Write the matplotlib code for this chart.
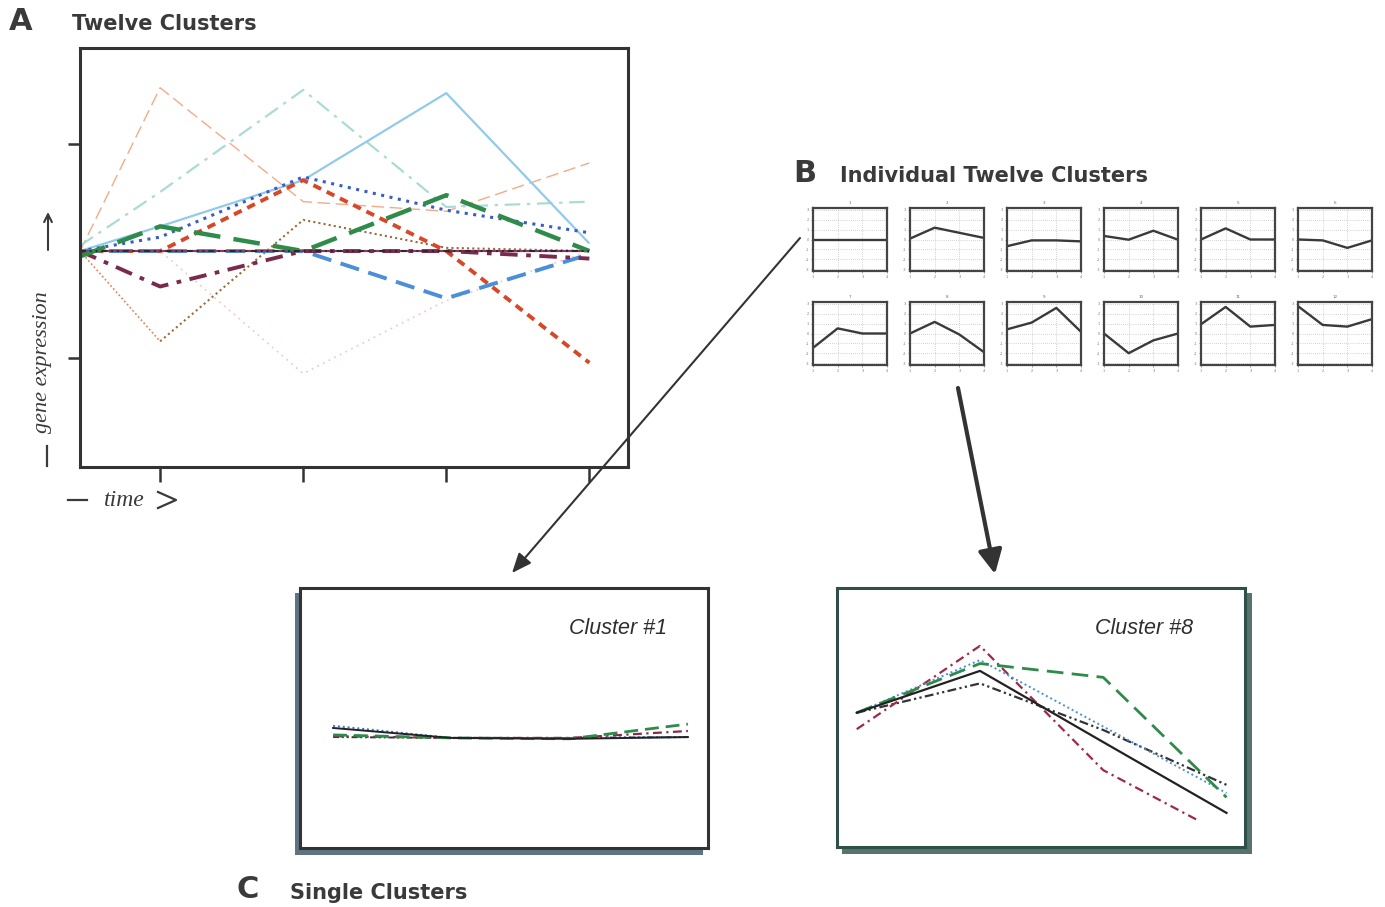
import matplotlib
matplotlib.use("Agg")
import matplotlib.pyplot as plt
import numpy as np
from matplotlib.patches import Rectangle

W, H = 1385, 907

# ---------------- data ----------------
# Panel A: twelve cluster profiles (time points, relative expression)
time_a = [0.44, 1, 2, 3, 4]
a_salmon = [0, 1.52, 0.46, 0.37, 0.82]
a_teal = [0.05, 0.55, 1.50, 0.41, 0.46]
a_skyblue = [0, 0.23, 0.66, 1.47, 0.07]
a_bluedot = [0, 0.13, 0.69, 0.38, 0.17]
a_red = [0, 0, 0.66, 0, -1.04]
a_green = [-0.05, 0.23, 0, 0.52, 0]
a_maroon = [0, -0.33, 0, 0, -0.07]
a_orange = [0, -0.84, np.nan, 0, 0]
a_brown = [np.nan, -0.84, 0.29, 0.03, 0]
a_pink = [0, 0, -1.14, -0.46, 0]
a_bluedash = [0, 0, 0, -0.44, -0.03]
a_purple = [0, 0, 0, 0, 0]
a_black = [0, 0, 0, 0, 0]
a_ticks_x = [1, 2, 3, 4]
a_ticks_y = [-1, 1]

# Panel B: individual cluster means
time_b = [1, 2, 3, 4]
b_titles = ["1", "2", "3", "4", "5", "6", "7", "8", "9", "10", "11", "12"]
b_c1 = [0, 0, 0, 0]
b_c2 = [0.09, 1.20, 0.68, 0.16]
b_c3 = [-0.68, -0.09, -0.09, -0.19]
b_c4 = [0.36, -0.02, 0.89, -0.02]
b_c5 = [0, 1.13, 0, 0]
b_c6 = [0, -0.09, -0.85, -0.09]
b_c7 = [-1.46, 0.52, 0, 0]
b_c8 = [0, 1.18, -0.10, -1.90]
b_c9 = [0.42, 1.11, 2.60, 0.17]
b_c10 = [0, -2.00, -0.70, 0]
b_c11 = [0.94, 2.70, 0.70, 0.87]
b_c12 = [2.78, 0.87, 0.70, 1.46]
b_yticks = [-3, -2, -1, 0, 1, 2, 3]

# Panel C: genes of single clusters
time_c = [1, 2, 3, 4]
c1_black = [-0.23, -0.46, -0.48, -0.44]
c1_green = [-0.39, -0.46, -0.48, -0.14]
c1_maroon = [-0.42, -0.46, -0.46, -0.30]
c1_blue = [-0.18, -0.46, -0.46, -0.44]
c1_dark = [-0.44, -0.46, -0.46, -0.44]

c8_black = [0.11, 1.08, -0.57, -2.21]
c8_green = [0.11, 1.25, 0.93, -1.85]
c8_blue = [0.11, 1.33, -0.21, -1.75]
c8_maroon_time = [1, 2, 3, 3.76]
c8_maroon = [-0.27, 1.66, -1.22, -2.37]
c8_dark = [0.11, 0.79, -0.29, -1.56]

TXT = "#3a3a3a"
SP = "#333333"


def rect(l, t, r, b):
    return [l / W, 1 - b / H, (r - l) / W, (b - t) / H]


fig = plt.figure(figsize=(W / 100, H / 100), dpi=100)
fig.patch.set_facecolor("white")

# background layer (shadows)
bg = fig.add_axes([0, 0, 1, 1], zorder=-1)
bg.set_xlim(0, W)
bg.set_ylim(H, 0)
bg.axis("off")
bg.add_patch(Rectangle((295, 593), 408, 262, facecolor="#5f7482", edgecolor="none"))
bg.add_patch(Rectangle((842, 593), 410, 261, facecolor="#58726e", edgecolor="none"))

# ---------------- Panel A ----------------
axA = fig.add_axes(rect(80, 48, 628, 467), zorder=1)
styles_a = [
    (a_salmon, "#f5aa88", 1.0, (0, (9, 4))),
    (a_teal, "#a9dcd6", 1.6, (0, (7, 3, 1.5, 3))),
    (a_pink, "#f1cccc", 1.3, (0, (1, 2.5))),
    (a_skyblue, "#92cbea", 1.6, "-"),
    (a_orange, "#f07a48", 1.2, (0, (1, 1.5))),
    (a_brown, "#9c6b3c", 1.5, (0, (1, 1.5))),
    (a_bluedot, "#3a5cc9", 2.2, (0, (1, 1.8))),
    (a_red, "#d8472a", 2.8, (0, (2.2, 1.6))),
    (a_bluedash, "#4a8fd8", 2.8, (0, (5, 2.5))),
    (a_purple, "#8b3a66", 1.6, "-"),
    (a_maroon, "#7a2a4c", 2.8, (0, (4.5, 2.2, 1.2, 2.2))),
    (a_green, "#2e8b4a", 3.2, (0, (6, 3))),
    (a_black, "#2a2a2a", 1.4, (0, (3, 2, 1, 2, 1, 2))),
]
for vals, col, lw, ls in styles_a:
    axA.plot(time_a, vals, color=col, lw=lw, linestyle=ls, solid_capstyle="butt")
axA.set_xlim(0.44, 4.27)
axA.set_ylim(-2.01, 1.89)
axA.set_xticks(a_ticks_x)
axA.set_yticks(a_ticks_y)
axA.set_xticklabels([])
axA.set_yticklabels([])
axA.tick_params(axis="y", direction="out", length=9, width=1.8, colors=SP)
axA.tick_params(axis="x", direction="out", length=11, width=1.8, colors=SP)
for s in axA.spines.values():
    s.set_linewidth(2.2)
    s.set_color(SP)

# ---------------- Panel B ----------------
b_series = [b_c1, b_c2, b_c3, b_c4, b_c5, b_c6, b_c7, b_c8, b_c9, b_c10, b_c11, b_c12]
for i, vals in enumerate(b_series):
    row, col = divmod(i, 6)
    l = 813 + 97 * col
    t = 208 + 94 * row
    ax = fig.add_axes(rect(l, t, l + 74, t + 63), zorder=1)
    ax.plot(time_b, vals, color="#3a3a3a", lw=1.7)
    ax.set_xlim(1, 4)
    ax.set_ylim(-3.2, 3.2)
    ax.set_xticks(time_b)
    ax.set_yticks(b_yticks)
    ax.set_xticklabels([str(v) for v in time_b], fontsize=2.5, color="#777777")
    ax.set_yticklabels([str(v) for v in b_yticks], fontsize=2.5, color="#777777")
    ax.tick_params(length=1.2, width=0.5, pad=1.5, colors="#777777")
    ax.grid(True, linestyle=(0, (1, 2)), lw=0.5, color="#aaaaaa")
    ax.set_title(b_titles[i], fontsize=3, color="#666666", pad=3)
    for s in ax.spines.values():
        s.set_linewidth(1.6)
        s.set_color("#444444")

# ---------------- Panel C ----------------
def cluster_panel(box, xlim, series, label, label_xy, edge):
    ax = fig.add_axes(rect(*box), zorder=1)
    ax.set_facecolor("white")
    for xs, vals, col, lw, ls in series:
        ax.plot(xs, vals, color=col, lw=lw, linestyle=ls)
    ax.set_xlim(*xlim)
    ax.set_ylim(-3, 3)
    ax.set_xticks([])
    ax.set_yticks([])
    for s in ax.spines.values():
        s.set_linewidth(2.2)
        s.set_color(edge)
    ax.text(label_xy[0], label_xy[1], label, transform=ax.transAxes,
            fontsize=15.5, style="italic", family="Liberation Sans",
            color="#2e2e2e", ha="center", va="center")
    return ax


c1_styles = [
    (time_c, c1_dark, "#333333", 1.4, (0, (3, 1.5, 1, 1.5, 1, 1.5))),
    (time_c, c1_blue, "#3a6fcf", 1.4, (0, (1, 1.5))),
    (time_c, c1_maroon, "#8b2a4a", 1.6, (0, (4, 2, 1, 2))),
    (time_c, c1_green, "#2e8b4a", 2.0, (0, (5, 2.5))),
    (time_c, c1_black, "#222222", 1.4, "-"),
]
cluster_panel((300, 588, 708, 848), (0.72, 4.17), c1_styles, "Cluster #1",
              ((618 - 300) / 408, 1 - (628 - 588) / 260), "#333333")

c8_styles = [
    (time_c, c8_dark, "#333333", 1.6, (0, (4, 1.5, 1, 1.5, 1, 1.5))),
    (c8_maroon_time, c8_maroon, "#a0284a", 1.6, (0, (4, 2, 1, 2))),
    (time_c, c8_blue, "#4a8fd8", 1.4, (0, (1, 1.5))),
    (time_c, c8_green, "#2e8b4a", 2.0, (0, (6, 3))),
    (time_c, c8_black, "#222222", 1.6, "-"),
]
cluster_panel((837, 588, 1245, 847), (0.84, 4.15), c8_styles, "Cluster #8",
              ((1144 - 837) / 408, 1 - (628 - 588) / 259), "#2f5048")

# ---------------- overlay: titles, labels, arrows ----------------
ov = fig.add_axes([0, 0, 1, 1], zorder=10)
ov.set_xlim(0, W)
ov.set_ylim(H, 0)
ov.axis("off")
ov.patch.set_alpha(0)

bold = dict(fontweight="bold", family="DejaVu Sans", color=TXT, va="center", ha="left")
ov.text(9, 21, "A", fontsize=22, **bold)
ov.text(72, 24, "Twelve Clusters", fontsize=15, **bold)
ov.text(793, 173, "B", fontsize=22, **bold)
ov.text(840, 176, "Individual Twelve Clusters", fontsize=15, **bold)
ov.text(237, 890, "C", fontsize=22, **bold)
ov.text(290, 893, "Single Clusters", fontsize=15, **bold)

serif = dict(family="Liberation Serif", style="italic", color=TXT)
ov.text(42, 362, "gene expression", fontsize=16, rotation=90, ha="center", va="center", **serif)
ov.annotate("", xy=(48, 212), xytext=(48, 250),
            arrowprops=dict(arrowstyle="->", color=TXT, lw=1.5, mutation_scale=14,
                            shrinkA=0, shrinkB=0))
ov.plot([47, 47], [446, 466], color=TXT, lw=1.6)
ov.text(124, 501, "time", fontsize=17, ha="center", va="center", **serif)
ov.plot([68, 87], [500, 500], color=TXT, lw=1.6)
ov.plot([158, 176, 158], [492, 500, 508], color=TXT, lw=1.6)

ov.annotate("", xy=(512, 573), xytext=(800, 238),
            arrowprops=dict(arrowstyle="-|>,head_length=0.6,head_width=0.25",
                            color="#333333", lw=1.5, mutation_scale=20,
                            shrinkA=0, shrinkB=0))
ov.annotate("", xy=(995, 574), xytext=(958, 388),
            arrowprops=dict(arrowstyle="-|>,head_length=0.6,head_width=0.3",
                            color="#333333", lw=3.0, mutation_scale=24,
                            shrinkA=0, shrinkB=0))

fig.savefig("out.png", dpi=100, facecolor="white")
